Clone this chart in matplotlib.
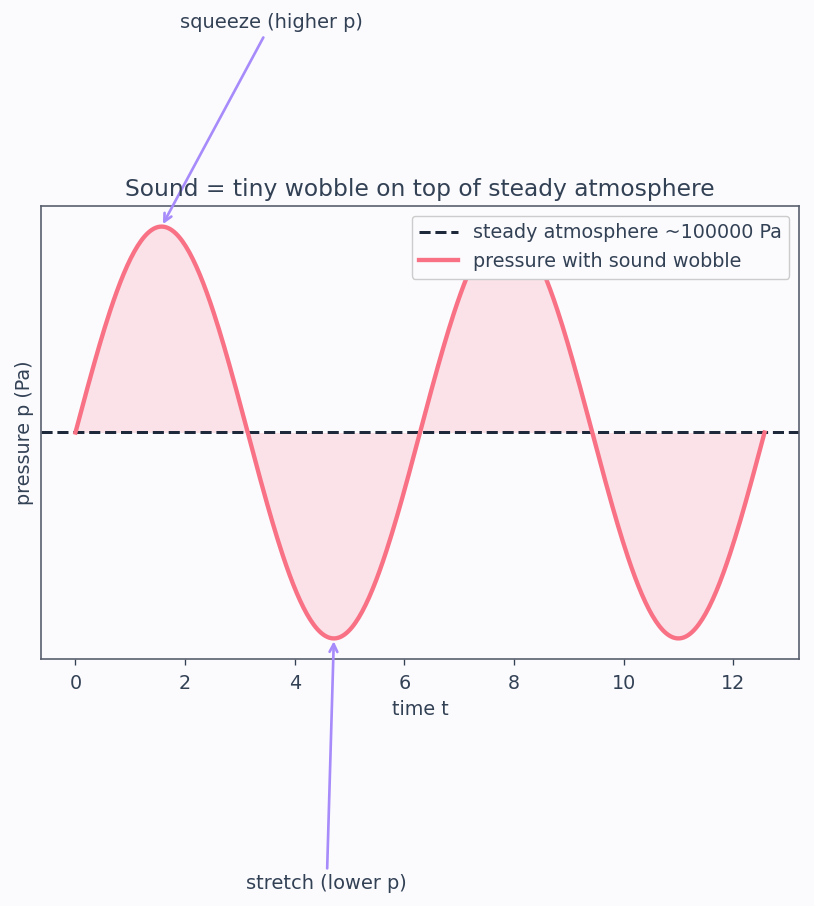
import numpy as np
import matplotlib.pyplot as plt

# steady atmosphere + small sound wobble
p_atm = 100000.0
wobble_amp = 2.0
t_end = 4 * np.pi
n_points = 400

squeeze_label = "squeeze (higher p)"
stretch_label = "stretch (lower p)"

t = np.linspace(0, t_end, n_points)
p = p_atm + wobble_amp * np.sin(t)

bg = "#fbfbfe"
ink = "#334155"
line_c = "#f87185"
arrow_c = "#a78bfa"
k = 1.2  # reference looks rendered at 120 dpi

plt.rcParams['font.family'] = ['DejaVu Sans']
fig = plt.figure(figsize=(8.14, 9.06), dpi=100, facecolor=bg)
ax = fig.add_axes([41 / 814, 1 - 659 / 906, (799 - 41) / 814, (659 - 206) / 906])
ax.set_facecolor(bg)

ax.axhline(p_atm, color="#1e293b", linestyle="--", linewidth=1.8 * k, label="steady atmosphere ~100000 Pa")
ax.plot(t, p, color=line_c, linewidth=2.6 * k, label="pressure with sound wobble")
ax.fill_between(t, p_atm, p, color=line_c, alpha=0.18, linewidth=0)

ax.set_yticks([])
ax.set_title("Sound = tiny wobble on top of steady atmosphere", fontsize=14 * k, color=ink, pad=6 * k)
ax.set_xlabel("time t", fontsize=11.5 * k, color=ink, labelpad=4 * k)
ax.set_ylabel("pressure p (Pa)", fontsize=11.5 * k, color=ink, labelpad=4 * k)
ax.tick_params(axis="x", colors=ink, labelsize=11.5 * k, length=3.5 * k, width=0.8 * k, pad=6.5)
for s in ax.spines.values():
    s.set_color("#5a5f6e")
    s.set_linewidth(1.0 * k)

ax.annotate(squeeze_label, xy=(np.pi / 2, p_atm + wobble_amp), xytext=(np.pi / 2 + 2.0, p_atm + 1.99 * wobble_amp),
            ha="center", va="center", fontsize=11.6 * k, color=ink, annotation_clip=False,
            arrowprops=dict(arrowstyle="->", color=arrow_c, lw=1.6 * k))
ax.annotate(stretch_label, xy=(3 * np.pi / 2, p_atm - wobble_amp), xytext=(3 * np.pi / 2 - 0.13, p_atm - 2.19 * wobble_amp),
            ha="center", va="center", fontsize=11.6 * k, color=ink, annotation_clip=False,
            arrowprops=dict(arrowstyle="->", color=arrow_c, lw=1.6 * k))

leg = ax.legend(loc="upper right", fontsize=11.5 * k, framealpha=1, facecolor=bg, edgecolor="#cccccc")
for txt in leg.get_texts():
    txt.set_color(ink)

fig.savefig("out.png", dpi=100, facecolor=bg)
